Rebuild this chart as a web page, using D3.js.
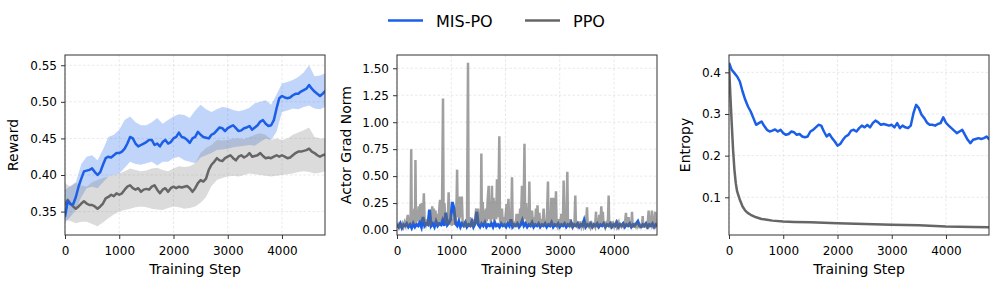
<!DOCTYPE html>
<html><head><meta charset="utf-8">
<script src="https://cdn.jsdelivr.net/npm/d3@7"></script>
<style>body{margin:0;background:#fff;} svg{display:block;font-family:"DejaVu Sans",sans-serif;}</style>
</head><body><svg id="c" width="997" height="284"></svg>
<script>
// ---------------- DATA ----------------
const seriesNames = ["MIS-PO", "PPO"];
const xTickValues = [0, 1000, 2000, 3000, 4000];
const rewardTicks = [0.35, 0.40, 0.45, 0.50, 0.55];
const gradTicks = [0.00, 0.25, 0.50, 0.75, 1.00, 1.25, 1.50];
const entropyTicks = [0.1, 0.2, 0.3, 0.4];

// reward, every 50 steps
const rewardSteps = d3.range(0, 4801, 50);
const rewardMIS = [0.343,0.364,0.36,0.36,0.37,0.384,0.395,0.405,0.406,0.407,
0.409,0.404,0.40,0.404,0.414,0.423,0.425,0.424,0.427,0.43,
0.43,0.432,0.436,0.443,0.452,0.45,0.443,0.439,0.441,0.443,
0.445,0.448,0.448,0.441,0.443,0.439,0.445,0.448,0.443,0.445,
0.45,0.452,0.458,0.452,0.451,0.448,0.444,0.45,0.452,0.459,
0.455,0.452,0.451,0.45,0.455,0.457,0.461,0.465,0.464,0.46,
0.464,0.466,0.468,0.464,0.46,0.461,0.464,0.465,0.467,0.462,
0.465,0.468,0.473,0.475,0.47,0.467,0.468,0.475,0.491,0.505,
0.508,0.506,0.505,0.506,0.509,0.511,0.511,0.514,0.516,0.518,
0.523,0.518,0.514,0.511,0.508,0.511,0.515];
const rewardPPO = [0.359,0.366,0.361,0.357,0.354,0.357,0.361,0.364,0.361,0.359,
0.359,0.357,0.354,0.357,0.361,0.368,0.37,0.373,0.371,0.375,
0.373,0.375,0.38,0.384,0.386,0.382,0.38,0.382,0.377,0.38,
0.381,0.38,0.384,0.386,0.38,0.375,0.38,0.382,0.377,0.382,
0.384,0.382,0.384,0.383,0.384,0.385,0.382,0.377,0.382,0.389,
0.393,0.391,0.395,0.407,0.414,0.418,0.423,0.42,0.419,0.423,
0.425,0.427,0.423,0.42,0.425,0.427,0.424,0.426,0.43,0.425,
0.426,0.427,0.43,0.426,0.423,0.424,0.423,0.425,0.427,0.425,
0.427,0.425,0.423,0.424,0.427,0.43,0.432,0.432,0.433,0.434,
0.436,0.432,0.43,0.427,0.425,0.427,0.428];

// reward bands, every 100 steps
const bandSteps = d3.range(0, 4801, 100);
const misUpper = [0.38,0.385,0.39,0.415,0.425,0.427,0.42,0.435,0.452,0.455,
0.462,0.475,0.48,0.472,0.468,0.468,0.472,0.478,0.47,0.475,
0.48,0.483,0.482,0.478,0.488,0.496,0.49,0.486,0.49,0.493,
0.492,0.489,0.487,0.489,0.492,0.498,0.5,0.502,0.496,0.51,
0.525,0.527,0.53,0.534,0.54,0.55,0.535,0.536,0.539];
const misLower = [0.335,0.343,0.352,0.37,0.382,0.384,0.382,0.39,0.398,0.4,
0.402,0.41,0.418,0.415,0.414,0.416,0.418,0.413,0.418,0.418,
0.423,0.425,0.42,0.418,0.416,0.424,0.427,0.43,0.434,0.435,
0.436,0.438,0.439,0.44,0.441,0.44,0.445,0.45,0.448,0.459,
0.486,0.488,0.491,0.49,0.493,0.495,0.491,0.49,0.493];
const ppoUpper = [0.389,0.384,0.389,0.386,0.384,0.39,0.393,0.396,0.398,0.4,
0.402,0.405,0.409,0.407,0.405,0.406,0.409,0.41,0.407,0.405,
0.409,0.412,0.411,0.412,0.416,0.43,0.437,0.441,0.448,0.447,
0.448,0.45,0.45,0.449,0.452,0.455,0.457,0.455,0.448,0.45,
0.448,0.45,0.455,0.458,0.461,0.465,0.452,0.45,0.45];
const ppoLower = [0.339,0.337,0.334,0.336,0.336,0.333,0.33,0.335,0.341,0.346,
0.35,0.352,0.354,0.356,0.357,0.356,0.354,0.353,0.352,0.355,
0.357,0.356,0.354,0.355,0.357,0.362,0.37,0.385,0.393,0.396,
0.398,0.399,0.398,0.4,0.402,0.401,0.4,0.399,0.398,0.399,
0.4,0.401,0.402,0.404,0.405,0.404,0.402,0.403,0.405];

// actor grad norm
const gradStepsMIS = d3.range(0, 4801, 30);
const gradMIS = [0.05,0.03,0.06,0.02,0.05,0.04,0.06,0.03,0.05,0.02,
0.06,0.03,0.05,0.04,0.07,0.03,0.12,0.04,0.06,0.05,
0.19,0.04,0.06,0.03,0.08,0.04,0.06,0.05,0.09,0.04,
0.16,0.05,0.07,0.1,0.26,0.2,0.06,0.04,0.08,0.03,
0.06,0.04,0.07,0.03,0.05,0.04,0.08,0.03,0.06,0.17,
0.05,0.03,0.06,0.04,0.07,0.03,0.05,0.04,0.06,0.03,
0.07,0.04,0.05,0.03,0.06,0.04,0.05,0.03,0.06,0.04,
0.1,0.03,0.05,0.04,0.06,0.03,0.05,0.09,0.04,0.06,
0.03,0.05,0.04,0.07,0.03,0.05,0.04,0.06,0.03,0.05,
0.04,0.06,0.03,0.05,0.04,0.07,0.03,0.05,0.04,0.06,
0.03,0.05,0.04,0.06,0.03,0.05,0.04,0.07,0.03,0.05,
0.04,0.06,0.03,0.05,0.04,0.09,0.03,0.05,0.04,0.06,
0.03,0.05,0.04,0.06,0.03,0.05,0.04,0.06,0.03,0.05,
0.04,0.06,0.03,0.05,0.04,0.07,0.03,0.05,0.04,0.06,
0.03,0.05,0.04,0.06,0.03,0.05,0.04,0.06,0.08,0.04,
0.03,0.05,0.04,0.06,0.03,0.05,0.04,0.06,0.03,0.05,
0.04];
const gradStepsPPO = [0,20,40,60,80,100,120,140,160,180,200,215,235,250,262,272,290,305,320,332,340,350,370,385,400,415,430,445,460,475,495,510,530,550,570,590,610,630,650,665,680,695,710,725,745,760,780,795,810,830,848,860,875,890,905,920,935,952,965,980,995,1010,1030,1050,1070,1085,1100,1108,1118,1135,1150,1165,1180,1195,1210,1230,1250,1270,1290,1309,1320,1340,1355,1375,1395,1415,1430,1445,1460,1475,1495,1510,1530,1545,1555,1565,1580,1595,1610,1625,1640,1655,1670,1690,1700,1715,1730,1750,1762,1780,1795,1812,1828,1843,1855,1870,1886,1898,1915,1935,1950,1970,1985,2005,2020,2035,2055,2070,2090,2105,2120,2132,2150,2170,2185,2205,2220,2240,2255,2270,2285,2304,2318,2335,2350,2362,2380,2395,2410,2425,2440,2452,2470,2490,2505,2525,2545,2562,2575,2590,2605,2625,2640,2660,2680,2703,2718,2740,2760,2783,2795,2815,2830,2845,2858,2875,2889,2900,2918,2931,2942,2960,2980,3000,3015,3029,3045,3060,3072,3085,3105,3120,3140,3152,3170,3190,3213,3230,3250,3270,3287,3298,3320,3340,3360,3380,3400,3420,3440,3460,3480,3503,3515,3535,3550,3570,3590,3610,3630,3650,3669,3680,3700,3715,3730,3745,3767,3780,3795,3808,3825,3845,3865,3885,3902,3912,3930,3950,3965,3985,4005,4020,4037,4055,4070,4086,4100,4120,4140,4160,4180,4200,4221,4232,4250,4270,4285,4305,4320,4332,4345,4365,4385,4405,4424,4440,4460,4480,4500,4515,4529,4540,4560,4580,4600,4620,4639,4650,4670,4700,4710,4730,4761,4770,4790];
const gradPPO = [0.03,0.05,0.02,0.04,0.03,0.06,0.03,0.07,0.04,0.09,
0.14,0.04,0.12,0.05,0.75,0.05,0.18,0.06,0.2,0.07,
0.65,0.06,0.19,0.08,0.22,0.1,0.24,0.08,0.25,0.07,
0.34,0.08,0.05,0.1,0.04,0.09,0.04,0.08,0.22,0.08,
0.2,0.07,0.18,0.05,0.15,0.04,0.2,0.28,0.08,0.2,
1.22,0.1,0.25,0.1,0.05,0.12,0.06,0.35,0.08,0.05,
0.14,0.04,0.1,0.05,0.2,0.08,0.31,0.56,0.12,0.31,
0.1,0.31,0.12,0.31,0.08,0.05,0.04,0.07,0.03,1.55,
0.04,0.12,0.03,0.08,0.03,0.1,0.04,0.12,0.2,0.06,
0.2,0.07,0.15,0.05,0.71,0.08,0.26,0.07,0.18,0.05,
0.2,0.08,0.27,0.41,0.1,0.26,0.07,0.41,0.1,0.3,
0.08,0.27,0.1,0.47,0.12,0.25,0.87,0.1,0.06,0.2,
0.05,0.12,0.04,0.15,0.24,0.08,0.29,0.06,0.18,0.05,
0.49,0.06,0.04,0.08,0.03,0.15,0.05,0.15,0.04,0.2,
0.08,0.41,0.08,0.22,0.8,0.1,0.25,0.06,0.2,0.05,
0.45,0.06,0.04,0.18,0.05,0.12,0.04,0.2,0.06,0.23,
0.05,0.16,0.04,0.1,0.03,0.2,0.05,0.1,0.04,0.45,
0.05,0.12,0.04,0.3,0.06,0.04,0.3,0.05,0.15,0.36,
0.05,0.03,0.1,0.04,0.08,0.15,0.04,0.1,0.46,0.05,
0.15,0.04,0.54,0.05,0.04,0.1,0.05,0.03,0.07,0.03,
0.32,0.04,0.03,0.08,0.03,0.08,0.03,0.06,0.03,0.07,
0.03,0.21,0.04,0.03,0.08,0.03,0.06,0.03,0.05,0.03,
0.17,0.04,0.03,0.07,0.14,0.04,0.22,0.06,0.17,0.04,
0.08,0.03,0.06,0.03,0.32,0.04,0.03,0.08,0.03,0.06,
0.03,0.05,0.07,0.03,0.05,0.07,0.03,0.05,0.03,0.05,
0.03,0.05,0.16,0.03,0.06,0.12,0.03,0.06,0.03,0.17,
0.03,0.03,0.05,0.03,0.05,0.03,0.05,0.03,0.05,0.03,
0.13,0.03,0.03,0.05,0.03,0.05,0.18,0.03,0.04,0.18,
0.03,0.04,0.17,0.03,0.04];

// entropy
const entropySteps = d3.range(0, 4801, 50);
const entropyMIS = [0.423,0.406,0.398,0.39,0.378,0.354,0.334,0.318,0.306,0.29,
0.274,0.278,0.282,0.271,0.262,0.258,0.26,0.263,0.258,0.262,
0.254,0.25,0.252,0.258,0.256,0.25,0.252,0.246,0.244,0.246,
0.258,0.262,0.268,0.274,0.272,0.258,0.246,0.252,0.242,0.234,
0.224,0.228,0.238,0.246,0.25,0.26,0.262,0.258,0.266,0.272,
0.268,0.274,0.268,0.278,0.284,0.28,0.274,0.276,0.274,0.272,
0.274,0.268,0.278,0.266,0.272,0.268,0.266,0.272,0.302,0.322,
0.314,0.298,0.29,0.279,0.274,0.274,0.272,0.276,0.278,0.292,
0.279,0.272,0.266,0.26,0.254,0.258,0.262,0.25,0.238,0.23,
0.238,0.24,0.242,0.24,0.242,0.246,0.238];
const entropyStepsPPO = [0,10,25,50,75,100,125,150,200,250,300,350,400,500,600,700,800,1000,1200,1500,2000,2500,3000,3500,4000,4500,4800];
const entropyPPO = [0.42,0.39,0.345,0.278,0.214,0.166,0.134,0.114,0.094,0.078,0.068,0.062,0.058,0.052,0.048,0.046,0.044,0.042,0.041,0.04,0.038,0.036,0.034,0.033,0.03,0.029,0.028];

// ---------------- DRAW ----------------
const BLUE = "#1b5fe8", GRAY = "#666666";
const svg = d3.select("#c");
const plotTop = 55, plotBottom = 235;
const xMax = 4793;

function zip(xs, ys) { return xs.map((s, i) => [s, ys[i]]); }

function makePanel(id, x0, x1, yDomain, yTicks, yFmt, yTitle, titleX, draw) {
  const g = svg.append("g");
  const x = d3.scaleLinear().domain([0, xMax]).range([x0, x1]);
  const y = d3.scaleLinear().domain(yDomain).range([plotBottom, plotTop]);
  g.append("g").selectAll("line").data(xTickValues).join("line")
    .attr("x1", d => x(d)).attr("x2", d => x(d)).attr("y1", plotTop).attr("y2", plotBottom)
    .attr("stroke", "#b0b0b0").attr("stroke-opacity", 0.4).attr("stroke-width", 0.7).attr("stroke-dasharray", "2.5,2");
  g.append("g").selectAll("line").data(yTicks).join("line")
    .attr("x1", x0).attr("x2", x1).attr("y1", d => y(d)).attr("y2", d => y(d))
    .attr("stroke", "#b0b0b0").attr("stroke-opacity", 0.4).attr("stroke-width", 0.7).attr("stroke-dasharray", "2.5,2");
  svg.append("clipPath").attr("id", "clip" + id).append("rect")
    .attr("x", x0).attr("y", plotTop).attr("width", x1 - x0).attr("height", plotBottom - plotTop);
  const content = g.append("g").attr("clip-path", `url(#clip${id})`);
  draw(content, x, y);
  g.append("rect").attr("x", x0).attr("y", plotTop).attr("width", x1 - x0).attr("height", plotBottom - plotTop)
    .attr("fill", "none").attr("stroke", "#333").attr("stroke-width", 1);
  const xa = g.append("g").attr("transform", `translate(0,${plotBottom})`)
    .call(d3.axisBottom(x).tickValues(xTickValues).tickSize(4).tickPadding(7).tickFormat(d3.format("d")));
  const ya = g.append("g").attr("transform", `translate(${x0},0)`)
    .call(d3.axisLeft(y).tickValues(yTicks).tickSize(4).tickPadding(4).tickFormat(d3.format(yFmt)));
  [xa, ya].forEach(a => {
    a.select(".domain").remove();
    a.selectAll("line").attr("stroke", "#333");
    a.selectAll("text").attr("font-size", 12).attr("font-family", "DejaVu Sans").attr("fill", "#000");
  });
  g.append("text").attr("x", (x0 + x1) / 2).attr("y", 274).attr("text-anchor", "middle")
    .attr("font-size", 14).attr("fill", "#000").text("Training Step");
  g.append("text").attr("transform", `translate(${titleX},${(plotTop + plotBottom) / 2}) rotate(-90)`)
    .attr("text-anchor", "middle").attr("font-size", 14).attr("fill", "#000").text(yTitle);
}

makePanel(1, 65, 325, [0.318, 0.564], rewardTicks, ".2f", "Reward", 18, (c, x, y) => {
  const area = d3.area().x(d => x(d[0])).y0(d => y(d[1])).y1(d => y(d[2]));
  const line = d3.line().x(d => x(d[0])).y(d => y(d[1]));
  c.append("path").datum(bandSteps.map((s, i) => [s, misLower[i], misUpper[i]]))
    .attr("d", area).attr("fill", BLUE).attr("fill-opacity", 0.27);
  c.append("path").datum(bandSteps.map((s, i) => [s, ppoLower[i], ppoUpper[i]]))
    .attr("d", area).attr("fill", "#888").attr("fill-opacity", 0.3);
  c.append("path").datum(zip(rewardSteps, rewardPPO)).attr("d", line)
    .attr("fill", "none").attr("stroke", GRAY).attr("stroke-width", 2.5).attr("stroke-linejoin", "round");
  c.append("path").datum(zip(rewardSteps, rewardMIS)).attr("d", line)
    .attr("fill", "none").attr("stroke", BLUE).attr("stroke-width", 2.5).attr("stroke-linejoin", "round");
});

makePanel(2, 397, 657, [-0.046, 1.623], gradTicks, ".2f", "Actor Grad Norm", 351, (c, x, y) => {
  const line = d3.line().x(d => x(d[0])).y(d => y(d[1]));
  c.append("path").datum(zip(gradStepsMIS, gradMIS)).attr("d", line)
    .attr("fill", "none").attr("stroke", BLUE).attr("stroke-width", 3);
  c.append("path").datum(zip(gradStepsPPO, gradPPO)).attr("d", line)
    .attr("fill", "none").attr("stroke", GRAY).attr("stroke-opacity", 0.62).attr("stroke-width", 2.5);
});

makePanel(3, 729, 989, [0.0095, 0.4416], entropyTicks, ".1f", "Entropy", 690, (c, x, y) => {
  const line = d3.line().x(d => x(d[0])).y(d => y(d[1]));
  c.append("path").datum(zip(entropyStepsPPO, entropyPPO)).attr("d", line)
    .attr("fill", "none").attr("stroke", GRAY).attr("stroke-width", 2.5).attr("stroke-linejoin", "round");
  c.append("path").datum(zip(entropySteps, entropyMIS)).attr("d", line)
    .attr("fill", "none").attr("stroke", BLUE).attr("stroke-width", 2.5).attr("stroke-linejoin", "round");
});

const legend = svg.append("g");
const legItems = [{name: seriesNames[0], color: BLUE, x: 388}, {name: seriesNames[1], color: GRAY, x: 525}];
legItems.forEach(it => {
  legend.append("line").attr("x1", it.x).attr("x2", it.x + 35).attr("y1", 20.5).attr("y2", 20.5)
    .attr("stroke", it.color).attr("stroke-width", 2.5);
  legend.append("text").attr("x", it.x + 48).attr("y", 26.5).attr("font-size", 16).attr("fill", "#000").text(it.name);
});
</script>
</body></html>
